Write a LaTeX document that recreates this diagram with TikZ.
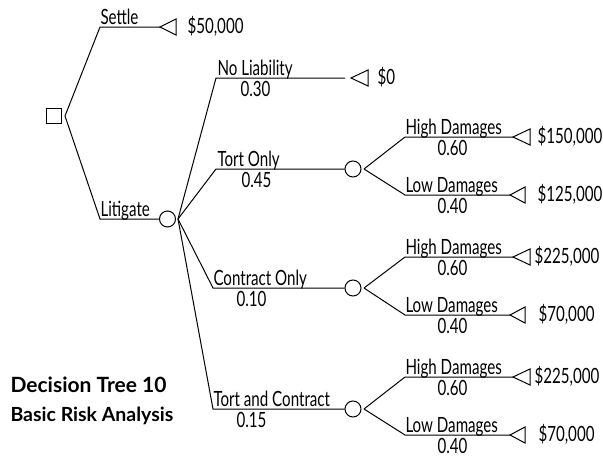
\documentclass[tikz,border=0pt]{standalone}
\usepackage{fontspec}
\setmainfont{Lato}
\newfontfamily\treefont[FakeStretch=0.72]{Lato}
\newfontfamily\titlefont{Lato}
\usetikzlibrary{calc}

% payoff marker: left-pointing triangle with its tip at #1
\newcommand\paymark[2]{\draw (#1) -- ++(#2,-8) -- ++(0,16) -- cycle;}

\begin{document}
\begin{tikzpicture}[x=1pt,y=-1pt,line width=1pt,
  decision/.style={draw,rectangle,minimum size=15pt,inner sep=0pt},
  chance/.style={draw,circle,minimum size=16pt,inner sep=0pt},
  txt/.style={anchor=base west,inner sep=0pt,font=\treefont\fontsize{21}{21}\selectfont},
  lbl/.style={txt},
  prob/.style={txt},
  payoff/.style={txt},
  title/.style={anchor=base west,inner sep=0pt,font=\titlefont\bfseries\fontsize{21}{21}\selectfont},
  subtitle/.style={anchor=base west,inner sep=0pt,font=\titlefont\bfseries\fontsize{19.5}{19.5}\selectfont}]
\useasboundingbox (0,0) rectangle (603,458);

% decision node and its two alternatives
\node[decision] (dec) at (54,116) {};
\coordinate (dv) at (65,116);

\coordinate (sk) at (100,27);
\coordinate (st) at (160,27);
\draw (dv) -- (sk) -- (st);
\paymark{st}{16}
\node[lbl] (settle) at (100,24.5) {Settle};
\node[payoff] (v50) at (187,33) {\$50,000};

\coordinate (lk) at (100,219);
\node[chance] (lit) at (167.5,219) {};
\draw (dv) -- (lk) -- (lit.west);
\node[lbl] (litigate) at (100,216.5) {Litigate};
\coordinate (lv) at (178,219);

% liability outcomes
\coordinate (nk) at (216,78);
\coordinate (ne) at (345,78);
\coordinate (nt) at (351,78);
\draw (lv) -- (nk) -- (ne);
\paymark{nt}{17}
\node[lbl] (nl) at (217,75.5) {No Liability};
\node[prob] (pnl) at (240,96) {0.30};
\node[payoff] (v0) at (377,84) {\$0};

\coordinate (tk) at (216,169);
\node[chance] (tc) at (353,169) {};
\draw (lv) -- (tk) -- (tc.west);
\node[lbl] (to) at (217,166.5) {Tort Only};
\node[prob] (pto) at (241,187) {0.45};

\coordinate (ck) at (213,288);
\node[chance] (cc) at (353,288) {};
\draw (lv) -- (ck) -- (cc.west);
\node[lbl] (co) at (213,285.5) {Contract Only};
\node[prob] (pco) at (236,306) {0.10};

\coordinate (bk) at (213,409);
\node[chance] (bc) at (353,409) {};
\draw (lv) -- (bk) -- (bc.west);
\node[lbl] (tac) at (213,406.5) {Tort and Contract};
\node[prob] (ptac) at (236,427) {0.15};

% damages outcomes: tort only
\coordinate (tv) at (364,169);
\coordinate (thk) at (405,137);
\coordinate (the) at (513,137);
\coordinate (tlk) at (405,195);
\coordinate (tle) at (510,195);
\draw (tv) -- (thk) -- (the);
\draw (tv) -- (tlk) -- (tle);
\paymark{the}{17}
\paymark{tle}{15}
\node[lbl] (thd) at (405,134.5) {High Damages};
\node[prob] (pthd) at (437,155) {0.60};
\node[lbl] (tld) at (405,192.5) {Low Damages};
\node[prob] (ptld) at (437,213) {0.40};
\node[payoff] (v150) at (537,143) {\$150,000};
\node[payoff] (v125) at (537,201) {\$125,000};

% damages outcomes: contract only
\coordinate (cv) at (364,288);
\coordinate (chk) at (405,257);
\coordinate (che) at (513,257);
\coordinate (clk) at (405,315);
\coordinate (cle) at (510,315);
\draw (cv) -- (chk) -- (che);
\draw (cv) -- (clk) -- (cle);
\paymark{che}{17}
\paymark{cle}{15}
\node[lbl] (chd) at (405,254.5) {High Damages};
\node[prob] (pchd) at (437,275) {0.60};
\node[lbl] (cld) at (405,312.5) {Low Damages};
\node[prob] (pcld) at (437,333) {0.40};
\node[payoff] (v225a) at (534,263) {\$225,000};
\node[payoff] (v70a) at (538,321) {\$70,000};

% damages outcomes: tort and contract
\coordinate (bv) at (364,409);
\coordinate (bhk) at (405,377);
\coordinate (bhe) at (513,377);
\coordinate (blk) at (405,435);
\coordinate (ble) at (510,435);
\draw (bv) -- (bhk) -- (bhe);
\draw (bv) -- (blk) -- (ble);
\paymark{bhe}{17}
\paymark{ble}{15}
\node[lbl] (bhd) at (405,374.5) {High Damages};
\node[prob] (pbhd) at (437,395) {0.60};
\node[lbl] (bld) at (405,432.5) {Low Damages};
\node[prob] (pbld) at (437,453) {0.40};
\node[payoff] (v225b) at (534,383) {\$225,000};
\node[payoff] (v70b) at (538,441) {\$70,000};

% caption
\node[title] (cap1) at (10,392) {Decision Tree 10};
\node[subtitle] (cap2) at (10,421) {Basic Risk Analysis};
\end{tikzpicture}
\end{document}
